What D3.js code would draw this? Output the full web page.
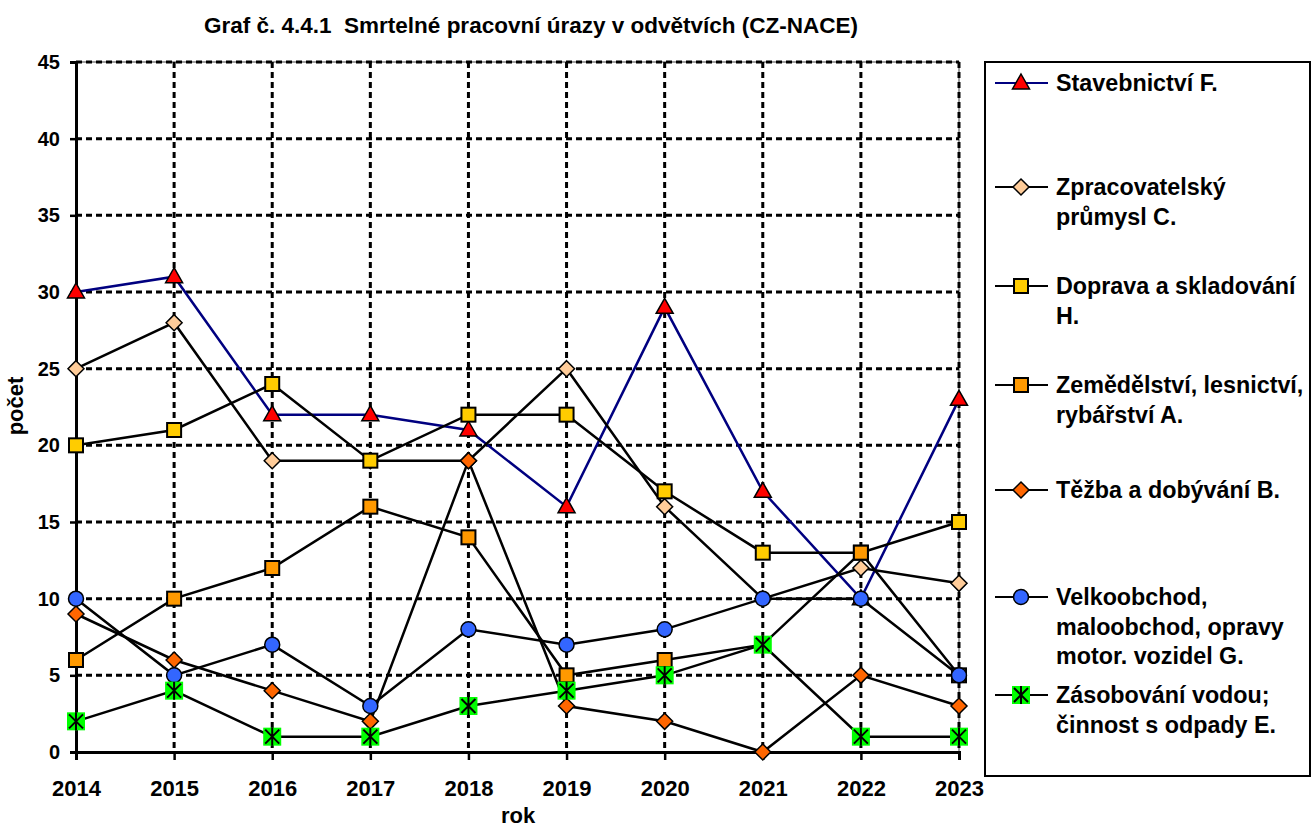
<!DOCTYPE html>
<html>
<head>
<meta charset="utf-8">
<script src="https://cdn.jsdelivr.net/npm/d3@7"></script>
<style>
  html, body { margin: 0; padding: 0; background: #fff; }
  svg text { font-family: Arial, "Liberation Sans", sans-serif; font-weight: bold; fill: #000; }
</style>
</head>
<body>
<svg id="chart" width="1313" height="829"></svg>
<script>
// Years on the x axis
const years = [2014, 2015, 2016, 2017, 2018, 2019, 2020, 2021, 2022, 2023];
// Y axis ticks
const yTicks = [0, 5, 10, 15, 20, 25, 30, 35, 40, 45];

// Fatal work injuries per sector (count)
const stavebnictvi   = [30, 31, 22, 22, 21, 16, 29, 17, 10, 23];
const zpracovatelsky = [25, 28, 19, 19, 19, 25, 16, 10, 12, 11];
const doprava        = [20, 21, 24, 19, 22, 22, 17, 13, 13, 15];
const zemedelstvi    = [6, 10, 12, 16, 14, 5, 6, 7, 13, 5];
const tezba          = [9, 6, 4, 2, 19, 3, 2, 0, 5, 3];
const velkoobchod    = [10, 5, 7, 3, 8, 7, 8, 10, 10, 5];
const zasobovani     = [2, 4, 1, 1, 3, 4, 5, 7, 1, 1];

const seriesNames = [
  ["Stavebnictví F."],
  ["Zpracovatelský", "průmysl C."],
  ["Doprava a skladování", "H."],
  ["Zemědělství, lesnictví,", "rybářství A."],
  ["Těžba a dobývání B."],
  ["Velkoobchod,", "maloobchod, opravy", "motor. vozidel G."],
  ["Zásobování vodou;", "činnost s odpady E."]
];

const series = [
  { name: seriesNames[0], values: stavebnictvi,   line: "#000080", marker: "triangle", fill: "#FF0000" },
  { name: seriesNames[1], values: zpracovatelsky, line: "#000000", marker: "diamond",  fill: "#FFCC99" },
  { name: seriesNames[2], values: doprava,        line: "#000000", marker: "square",   fill: "#FFCC00" },
  { name: seriesNames[3], values: zemedelstvi,    line: "#000000", marker: "square",   fill: "#FF9900" },
  { name: seriesNames[4], values: tezba,          line: "#000000", marker: "diamond",  fill: "#FF6600" },
  { name: seriesNames[5], values: velkoobchod,    line: "#000000", marker: "circle",   fill: "#3366FF" },
  { name: seriesNames[6], values: zasobovani,     line: "#000000", marker: "starsq",   fill: "#00FF00" }
];

const svg = d3.select("#chart");
const plot = { left: 76, right: 959, top: 62, bottom: 752 };

const x = d3.scalePoint().domain(years).range([plot.left, plot.right]);
const y = d3.scaleLinear().domain([0, 45]).range([plot.bottom, plot.top]);

// Title
svg.append("text")
  .attr("x", 531).attr("y", 33)
  .attr("text-anchor", "middle")
  .style("font-size", "22.5px")
  .style("white-space", "pre")
  .text("Graf č. 4.4.1  Smrtelné pracovní úrazy v odvětvích (CZ-NACE)");

// Plot frame
svg.append("rect")
  .attr("x", plot.left).attr("y", plot.top)
  .attr("width", plot.right - plot.left).attr("height", plot.bottom - plot.top)
  .attr("fill", "none").attr("stroke", "#808080").attr("stroke-width", 1.5);

// Dashed grid
const grid = svg.append("g");
grid.selectAll("line.h").data(yTicks.filter(d => d > 0)).enter().append("line")
  .attr("x1", plot.left).attr("x2", plot.right)
  .attr("y1", d => y(d)).attr("y2", d => y(d))
  .attr("stroke", "#000").attr("stroke-width", 3).attr("stroke-dasharray", "6,4");
grid.selectAll("line.v").data(years.slice(1)).enter().append("line")
  .attr("x1", d => x(d)).attr("x2", d => x(d))
  .attr("y1", plot.top).attr("y2", plot.bottom)
  .attr("stroke", "#000").attr("stroke-width", 3).attr("stroke-dasharray", "6,4");

// Axes
const yAxis = svg.append("g")
  .attr("transform", `translate(${plot.left},0)`)
  .call(d3.axisLeft(y).tickValues(yTicks).tickSize(6).tickPadding(10));
const xAxis = svg.append("g")
  .attr("transform", `translate(0,${plot.bottom})`)
  .call(d3.axisBottom(x).tickSize(8).tickPadding(20).tickFormat(d3.format("d")));
[yAxis, xAxis].forEach(a => {
  a.select(".domain").attr("stroke", "#000").attr("stroke-width", 3);
  a.selectAll(".tick line").attr("stroke", "#000").attr("stroke-width", 2.5);
  a.selectAll(".tick text")
    .style("font-family", "Arial, 'Liberation Sans', sans-serif")
    .style("font-weight", "bold").attr("fill", "#000");
});
yAxis.selectAll(".tick text").style("font-size", "20px");
xAxis.selectAll(".tick text").style("font-size", "22px");

// Axis titles
svg.append("text")
  .attr("transform", "translate(23,406) rotate(-90)")
  .attr("text-anchor", "middle")
  .style("font-size", "22px")
  .text("počet");
svg.append("text")
  .attr("x", 518).attr("y", 823)
  .attr("text-anchor", "middle")
  .style("font-size", "22px")
  .text("rok");

// Marker drawing
function drawMarker(g, type, fill, cx, cy) {
  if (type === "triangle") {
    g.append("path")
      .attr("d", `M${cx},${cy - 9}L${cx + 8.5},${cy + 6}L${cx - 8.5},${cy + 6}Z`)
      .attr("fill", fill).attr("stroke", "#000").attr("stroke-width", 1.5);
  } else if (type === "diamond") {
    g.append("path")
      .attr("d", `M${cx},${cy - 8}L${cx + 8},${cy}L${cx},${cy + 8}L${cx - 8},${cy}Z`)
      .attr("fill", fill).attr("stroke", "#000").attr("stroke-width", 1.5);
  } else if (type === "square") {
    g.append("rect")
      .attr("x", cx - 7).attr("y", cy - 7).attr("width", 14).attr("height", 14)
      .attr("fill", fill).attr("stroke", "#000").attr("stroke-width", 2);
  } else if (type === "circle") {
    g.append("circle")
      .attr("cx", cx).attr("cy", cy).attr("r", 7.5)
      .attr("fill", fill).attr("stroke", "#000").attr("stroke-width", 1.5);
  } else if (type === "starsq") {
    g.append("rect")
      .attr("x", cx - 9).attr("y", cy - 9).attr("width", 18).attr("height", 18)
      .attr("fill", fill);
    g.append("path")
      .attr("d", `M${cx - 7},${cy - 7}L${cx + 7},${cy + 7}M${cx + 7},${cy - 7}L${cx - 7},${cy + 7}M${cx},${cy - 9}L${cx},${cy + 9}`)
      .attr("stroke", "#000").attr("stroke-width", 2).attr("fill", "none");
  }
}

// Series lines and markers
const line = d3.line().x((d, i) => x(years[i])).y(d => y(d));
series.forEach(s => {
  const g = svg.append("g");
  g.append("path")
    .attr("d", line(s.values))
    .attr("fill", "none").attr("stroke", s.line).attr("stroke-width", 2.5);
  s.values.forEach((v, i) => drawMarker(g, s.marker, s.fill, x(years[i]), y(v)));
});

// Legend
const legend = svg.append("g");
legend.append("rect")
  .attr("x", 985).attr("y", 62).attr("width", 325).attr("height", 714)
  .attr("fill", "#fff").attr("stroke", "#000").attr("stroke-width", 2);
const legendY = [83, 187, 286, 385, 490, 597, 695];
series.forEach((s, i) => {
  const ly = legendY[i];
  const g = legend.append("g");
  g.append("line")
    .attr("x1", 995).attr("x2", 1048).attr("y1", ly).attr("y2", ly)
    .attr("stroke", s.line).attr("stroke-width", 2);
  drawMarker(g, s.marker, s.fill, 1021, ly);
  s.name.forEach((t, k) => {
    g.append("text")
      .attr("x", 1056).attr("y", ly + 8 + k * 29.5)
      .style("font-size", "23.3px")
      .text(t);
  });
});
</script>
</body>
</html>
